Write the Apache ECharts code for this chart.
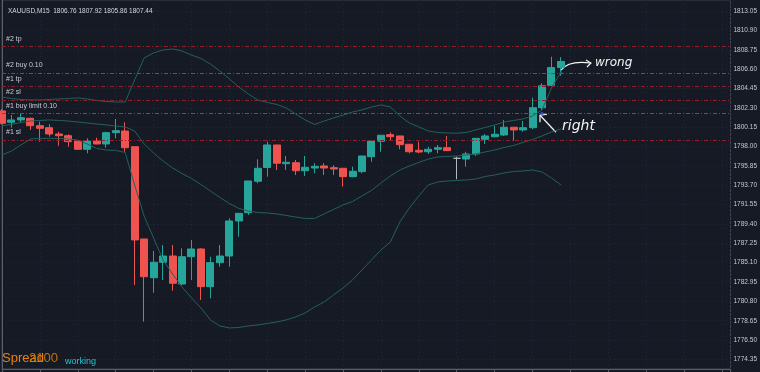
<!DOCTYPE html>
<html>
<head>
<meta charset="utf-8">
<script src="https://cdn.jsdelivr.net/npm/echarts@6/dist/echarts.min.js"></script>
<style>
html,body{margin:0;padding:0;background:#161a25;}
#main{width:760px;height:372px;}
</style>
</head>
<body>
<div id="main"></div>
<script>
// XAUUSD M15, one value per bar
var opens = [1801.95,1800.69,1800.95,1801.13,1800.31,1800.09,1799.39,1799.20,1798.61,1797.69,
  1798.61,1798.28,1799.54,1799.72,1797.98,1787.73,1783.43,1785.14,1785.84,1782.73,
  1785.76,1786.62,1782.43,1785.10,1785.84,1789.73,1790.65,1794.14,1795.67,1798.17,
  1796.09,1796.20,1795.31,1795.61,1795.84,1795.65,1795.58,1794.65,1795.21,1796.87,
  1798.58,1799.31,1799.17,1798.25,1797.58,1797.42,1797.69,1797.87,1796.69,1796.61,
  1797.17,1798.80,1799.09,1799.28,1800.14,1799.84,1800.09,1802.31,1804.80,1806.76];
var closes = [1800.58,1800.95,1801.20,1800.31,1800.02,1799.39,1799.20,1798.54,1797.69,1798.61,
  1798.28,1799.54,1799.76,1797.87,1787.62,1783.54,1785.14,1785.84,1782.81,1785.76,
  1786.62,1782.43,1785.10,1785.84,1789.73,1790.58,1794.17,1795.58,1798.17,1796.14,
  1796.25,1795.31,1795.69,1795.80,1795.61,1795.50,1794.65,1795.25,1796.95,1798.61,
  1799.25,1799.09,1798.20,1797.42,1797.39,1797.69,1797.87,1797.54,1796.69,1797.17,
  1798.91,1799.17,1799.36,1800.14,1799.84,1800.09,1802.31,1804.75,1806.76,1807.44];
var lows = [1800.45,1800.09,1800.61,1799.84,1798.54,1799.09,1798.09,1797.98,1797.61,1797.25,
  1798.25,1797.87,1798.91,1797.42,1782.62,1778.55,1781.77,1783.18,1781.99,1782.62,
  1783.18,1780.96,1781.14,1784.65,1784.65,1787.99,1790.40,1793.92,1794.65,1795.39,
  1795.39,1794.84,1794.73,1795.03,1794.84,1794.84,1793.54,1794.58,1795.03,1796.31,
  1797.42,1798.72,1797.69,1797.25,1797.25,1797.17,1797.25,1797.54,1794.36,1795.76,
  1796.95,1798.28,1799.02,1799.17,1798.65,1799.65,1799.91,1802.06,1804.72,1805.86];
var highs = [1802.17,1801.50,1801.72,1801.20,1800.76,1800.47,1799.64,1799.36,1798.72,1798.91,
  1798.98,1799.64,1801.06,1800.69,1797.98,1787.73,1786.40,1787.06,1787.06,1786.70,
  1787.62,1786.70,1785.76,1787.06,1790.03,1790.58,1794.17,1796.58,1798.54,1798.17,
  1796.95,1796.50,1796.95,1796.14,1796.14,1795.92,1795.58,1795.76,1796.95,1798.65,
  1799.25,1799.58,1799.17,1798.25,1798.54,1797.98,1798.17,1799.17,1796.87,1797.42,
  1798.91,1799.39,1800.28,1800.95,1800.14,1800.83,1803.42,1805.02,1807.97,1807.92];

// bollinger bands
var bbUpper = [1803.50,1803.33,1803.22,1803.17,1803.17,1803.22,1803.28,1803.33,1803.39,1803.28,
  1803.11,1803.00,1802.94,1802.94,1805.39,1807.83,1808.39,1808.72,1808.83,1808.61,
  1808.16,1807.78,1807.16,1806.39,1805.50,1804.61,1803.83,1803.17,1802.89,1802.67,
  1802.28,1801.61,1800.95,1800.45,1800.83,1801.17,1801.50,1801.83,1802.06,1802.39,
  1802.61,1802.39,1801.39,1800.61,1800.17,1799.72,1799.56,1799.50,1799.47,1799.56,
  1799.83,1800.11,1800.39,1800.72,1800.89,1801.06,1801.39,1802.06,1804.50,1806.28];
var bbMiddle = [1800.31,1800.45,1800.67,1800.83,1800.89,1800.95,1800.89,1800.83,1800.72,1800.61,
  1800.50,1800.39,1800.28,1800.17,1799.72,1798.28,1797.28,1796.39,1795.62,1795.00,
  1794.45,1793.78,1793.06,1792.34,1791.67,1791.12,1790.84,1790.67,1790.62,1790.51,
  1790.34,1790.17,1790.01,1790.01,1790.51,1791.01,1791.51,1791.89,1792.51,1793.12,
  1793.95,1794.73,1795.39,1795.84,1796.23,1796.61,1796.84,1796.89,1796.95,1797.06,
  1797.17,1797.39,1797.61,1797.89,1798.11,1798.45,1798.78,1799.17,1799.61,1799.95];
var bbLower = [1797.06,1797.50,1798.17,1798.84,1798.89,1798.91,1798.89,1798.84,1798.72,1798.28,
  1797.78,1797.61,1797.56,1797.34,1793.73,1790.28,1787.84,1785.40,1783.84,1782.40,
  1781.18,1780.07,1778.74,1778.07,1777.85,1777.90,1778.07,1778.18,1778.35,1778.51,
  1778.74,1779.07,1779.51,1780.18,1780.73,1781.51,1782.29,1783.18,1784.29,1785.40,
  1786.51,1787.40,1789.62,1791.17,1792.51,1793.73,1794.06,1794.17,1794.23,1794.28,
  1794.39,1794.67,1794.84,1795.06,1795.23,1795.28,1795.39,1795.17,1794.50,1793.73];

var yTicks = [1774.35,1776.50,1778.65,1780.80,1782.95,1785.10,1787.25,1789.40,1791.55,1793.70,
  1795.85,1798.00,1800.15,1802.30,1804.45,1806.60,1808.75,1810.90,1813.05];

var levelNames = ['#2 tp','#2 buy 0.10','#1 tp','#2 sl','#1 buy limit 0.10','#1 sl'];
var levelPrices = [1809.11,1806.16,1804.67,1803.17,1801.69,1798.72];

var entryBars = [59, 57];
var entryPrices = [1806.16, 1801.69];

var lastPrice = 1807.44;

var up = '#26a69a', down = '#ef5350';

var candles = [];
for (var i = 0; i < opens.length; i++) {
  candles.push([i, opens[i], closes[i], lows[i], highs[i]]);
}
function band(arr) {
  return arr.map(function (v, i) { return [i, v]; });
}

var levelLines = levelNames.map(function (n, i) {
  var isBuy = n.indexOf('buy') >= 0;
  return {
    yAxis: levelPrices[i],
    lineStyle: {color: isBuy ? '#2c6b6c' : '#961d28', width: 1, type: [4, 2, 1, 2]},
    label: {
      show: true, position: 'insideStartTop', distance: 4, formatter: n,
      color: '#c8ccd3', fontSize: 7, fontFamily: 'Liberation Sans'
    }
  };
});
levelLines.push({
  yAxis: lastPrice,
  lineStyle: {opacity: 0},
  label: {
    show: true, position: 'end', distance: 2, formatter: lastPrice.toFixed(2),
    color: '#000', backgroundColor: '#fff', padding: [1, 2, 0, 2],
    fontSize: 6.5, fontFamily: 'Liberation Sans'
  }
});

var chart = echarts.init(document.getElementById('main'));
chart.setOption({
  backgroundColor: '#161a25',
  animation: false,
  title: {
    text: 'XAUUSD,M15  1806.76 1807.92 1805.86 1807.44',
    left: 3, top: 3,
    textStyle: {color: '#d3d6dc', fontSize: 6.5, fontWeight: 'normal', fontFamily: 'Liberation Sans'}
  },
  grid: {left: 2, right: 28, top: 0, bottom: 3, show: true, borderColor: '#3e424d', borderWidth: 1},
  xAxis: {
    type: 'value', min: 0, max: 76.9, interval: 4,
    axisLine: {show: true, lineStyle: {color: '#5b5f69'}},
    axisTick: {show: true, length: 3, lineStyle: {color: '#5b5f69'}},
    axisLabel: {show: false},
    splitLine: {show: true, lineStyle: {color: '#20253a', type: [1, 3]}}
  },
  yAxis: {
    type: 'value', position: 'right', min: 1773.29, max: 1814.27, scale: true,
    axisLine: {show: true, lineStyle: {color: '#5b5f69'}},
    axisTick: {show: false, customValues: yTicks},
    axisLabel: {
      customValues: yTicks, margin: 3, color: '#c6c9d0', fontSize: 6.5,
      fontFamily: 'Liberation Sans',
      formatter: function (v) { return v.toFixed(2); }
    },
    splitLine: {show: true, lineStyle: {color: '#22273a', type: [1, 3]}}
  },
  series: [
    {
      type: 'line', data: band(bbUpper), symbol: 'none', silent: true,
      lineStyle: {color: '#24605d', width: 1}
    },
    {
      type: 'line', data: band(bbMiddle), symbol: 'none', silent: true,
      lineStyle: {color: '#24605d', width: 1}
    },
    {
      type: 'line', data: band(bbLower), symbol: 'none', silent: true,
      lineStyle: {color: '#24605d', width: 1}
    },
    {
      type: 'candlestick',
      data: candles,
      encode: {x: 0, y: [1, 2, 3, 4]},
      barWidth: 7.5,
      itemStyle: {
        color: up, color0: down, borderColor: up, borderColor0: down,
        borderColorDoji: '#b4b7bd', borderWidth: 1
      },
      markLine: {symbol: 'none', silent: true, data: levelLines}
    },
    {
      type: 'scatter', symbol: 'circle', symbolSize: 3, silent: true,
      itemStyle: {color: '#3b58f0'},
      data: entryBars.map(function (b, i) { return [b, entryPrices[i]]; })
    }
  ]
});

// hand-drawn notes, anchored at the two entries
var a = chart.convertToPixel({gridIndex: 0}, [entryBars[0], entryPrices[0]]);
var b = chart.convertToPixel({gridIndex: 0}, [entryBars[1], entryPrices[1]]);
var pen = {stroke: '#f4f4f4', lineWidth: 1.2, fill: null};
var wEnd = [a[0] + 30, a[1] - 10];
var rTip = [b[0] - 2, b[1] + 2];
chart.setOption({
  graphic: [
    {type: 'bezierCurve', shape: {x1: a[0], y1: a[1] - 3, cpx1: a[0] + 8, cpy1: a[1] - 13, x2: wEnd[0], y2: wEnd[1]}, style: pen},
    {type: 'polyline', shape: {points: [[wEnd[0] - 5, wEnd[1] - 3], wEnd, [wEnd[0] - 4, wEnd[1] + 4]]}, style: pen},
    {type: 'text', x: wEnd[0] + 4, y: wEnd[1], style: {text: 'wrong', fill: '#f4f4f4', font: 'italic 12px "DejaVu Sans"', verticalAlign: 'middle'}},
    {type: 'line', shape: {x1: rTip[0], y1: rTip[1], x2: rTip[0] + 16, y2: rTip[1] + 17}, style: pen},
    {type: 'polyline', shape: {points: [[rTip[0], rTip[1] + 7], rTip, [rTip[0] + 7, rTip[1] - 1]]}, style: pen},
    {type: 'text', x: b[0] + 20, y: b[1] + 13, style: {text: 'right', fill: '#f4f4f4', font: 'italic 14px "DejaVu Sans"', verticalAlign: 'middle'}},
    {type: 'text', left: 2, top: 352, style: {text: 'Spread', fill: '#e8830f', font: '13px "Liberation Sans"'}},
    {type: 'text', left: 29, top: 352, style: {text: '2100', fill: '#d9800f', font: '13px "Liberation Sans"', opacity: 0.85}},
    {type: 'text', left: 65, top: 357, style: {text: 'working', fill: '#22c6cf', font: '9px "Liberation Sans"'}}
  ]
});
</script>
</body>
</html>
